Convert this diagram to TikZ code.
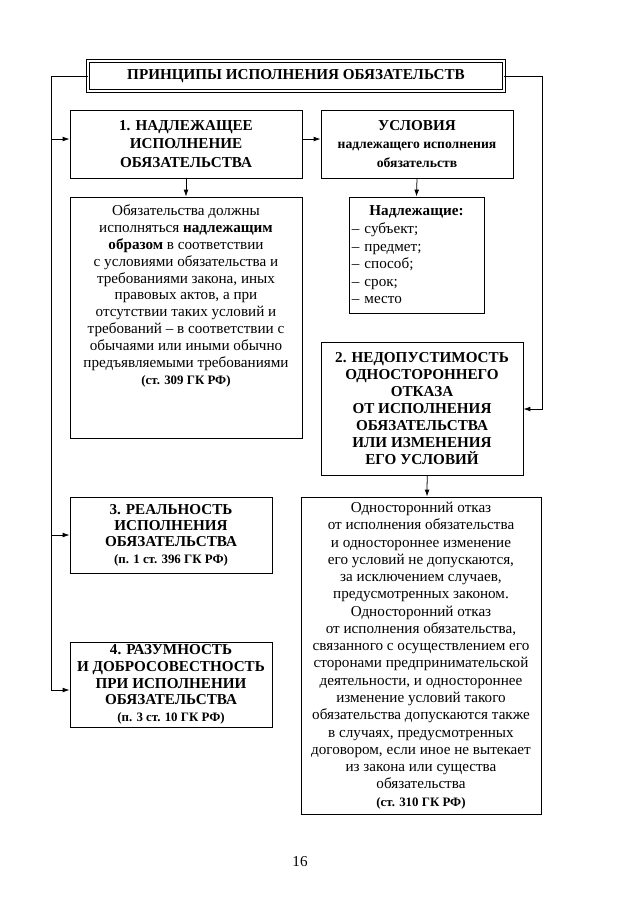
\documentclass[tikz,border=0pt]{standalone}
\usepackage{fontspec}
\setmainfont{Liberation Serif}
\usetikzlibrary{arrows.meta}

\begin{document}
\begin{tikzpicture}[x=0.232mm, y=-0.232mm,
  every node/.style={font=\fontsize{10}{11.6}\selectfont},
  box/.style 2 args={draw, line width=0.6pt, align=center, inner sep=0pt,
    minimum width=#1*0.232mm, minimum height=#2*0.232mm},
  head/.style 2 args={box={#1}{#2}, font=\bfseries\fontsize{10}{11.2}\selectfont},
  arr/.style={-{Latex[length=1.6mm,width=1.1mm]}, line width=0.5pt}]
  \useasboundingbox (0,0) rectangle (638,903);
  % header
  \node[head={416}{30}, double, double distance=1.2pt, line width=0.5pt] (title) at (296,76) {ПРИНЦИПЫ ИСПОЛНЕНИЯ ОБЯЗАТЕЛЬСТВ};
  % left column
  \node[head={232}{68}, font=\bfseries\fontsize{10}{12.2}\selectfont] (nadl) at (186,144) {1. НАДЛЕЖАЩЕЕ\\ИСПОЛНЕНИЕ\\ОБЯЗАТЕЛЬСТВА};
  \node[box={232}{241}] (obyaz) at (186,317.5) {\parbox[c][55mm][t]{52mm}{\centering\fontsize{10}{11.1}\selectfont\vspace{1.4mm}
    Обязательства должны\\
    исполняться \textbf{надлежащим}\\
    \textbf{образом} в соответствии\\
    с условиями обязательства и\\
    требованиями закона, иных\\
    правовых актов, а при\\
    отсутствии таких условий и\\
    требований – в соответствии с\\
    обычаями или иными обычно\\
    предъявляемыми требованиями\\
    {\bfseries\fontsize{8.5}{11.1}\selectfont(ст. 309 ГК РФ)}}};
  \node[head={202}{76}, font=\bfseries\fontsize{10}{10.8}\selectfont] (real) at (171,535) {3. РЕАЛЬНОСТЬ\\ИСПОЛНЕНИЯ\\ОБЯЗАТЕЛЬСТВА\\\fontsize{8.5}{10.8}\selectfont(п. 1 ст. 396 ГК РФ)};
  \node[head={202}{85}, font=\bfseries\fontsize{10}{11}\selectfont] (razum) at (171,684.5) {4. РАЗУМНОСТЬ\\И ДОБРОСОВЕСТНОСТЬ\\ПРИ ИСПОЛНЕНИИ\\ОБЯЗАТЕЛЬСТВА\\\fontsize{8.5}{10.5}\selectfont(п. 3 ст. 10 ГК РФ)};
  % right column
  \node[head={192}{68}, font=\bfseries\fontsize{10}{12.2}\selectfont] (usl) at (417,144) {УСЛОВИЯ\\\fontsize{9}{12.2}\selectfont надлежащего исполнения\\\fontsize{9}{12.2}\selectfont обязательств};
  \node[box={135}{116}, align=left, text width=30mm] (spisok) at (416.5,255) {\makebox[\linewidth]{\textbf{Надлежащие:}}\\
    – субъект;\\– предмет;\\– способ;\\– срок;\\– место};
  \node[head={202}{133}] (nedop) at (422,408.5) {2. НЕДОПУСТИМОСТЬ\\ОДНОСТОРОННЕГО\\ОТКАЗА\\ОТ ИСПОЛНЕНИЯ\\ОБЯЗАТЕЛЬСТВА\\ИЛИ ИЗМЕНЕНИЯ\\ЕГО УСЛОВИЙ};
  \node[box={240}{317}, font=\fontsize{10}{11.4}\selectfont] (otkaz) at (421,655.5) {Односторонний отказ\\
    от исполнения обязательства\\
    и одностороннее изменение\\
    его условий не допускаются,\\
    за исключением случаев,\\
    предусмотренных законом.\\
    Односторонний отказ\\
    от исполнения обязательства,\\
    связанного с осуществлением его\\
    сторонами предпринимательской\\
    деятельности, и одностороннее\\
    изменение условий такого\\
    обязательства допускаются также\\
    в случаях, предусмотренных\\
    договором, если иное не вытекает\\
    из закона или существа\\
    обязательства\\
    \bfseries\fontsize{8.5}{11.4}\selectfont(ст. 310 ГК РФ)};
  \node (page) at (300,862) {16};
  % connectors
  \draw[line width=0.5pt] (title.west) -| (51,690);
  \draw[arr] (51,139) -- (nadl.west |- 0,139);
  \draw[arr] (51,535) -- (real.west);
  \draw[arr] (51,690) -- (razum.west |- 0,690);
  \draw[arr] (nadl.east |- 0,139) -- (usl.west |- 0,139);
  \draw[arr] (nadl.south) -- (obyaz.north);
  \draw[arr] (usl.south) -- (spisok.north);
  \draw[arr] (title.east) -| (542,409) -- (nedop.east |- 0,409);
  \draw[arr] ([xshift=1.2mm]nedop.south) -- ([xshift=1.4mm]otkaz.north);
\end{tikzpicture}
\end{document}
